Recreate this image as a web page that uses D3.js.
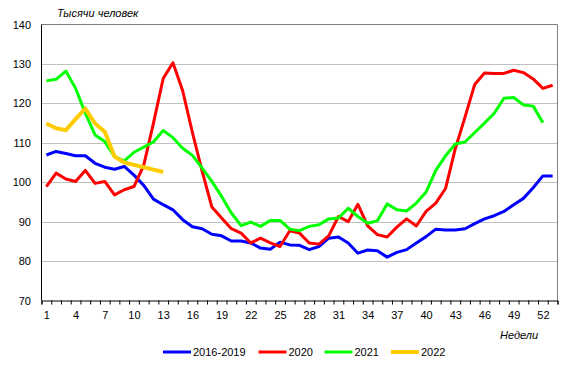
<!DOCTYPE html>
<meta charset="utf-8">
<style>
body{margin:0;background:#fff;}
text{font-family:"Liberation Sans",Arial,sans-serif;font-size:11px;fill:#000;}
.ttl{font-style:italic;}
</style>
<body>
<script src="https://d3js.org/d3.v7.min.js"></script>
<script>

// weeks 1..53
var weeks = d3.range(1, 54);
var weekLabels = [1,4,7,10,13,16,19,22,25,28,31,34,37,40,43,46,49,52];
var yTicks = [70,80,90,100,110,120,130,140];

var avg1619 = [106.9,107.8,107.3,106.7,106.7,104.8,103.8,103.3,104.0,101.8,
  99.2,95.7,94.3,93.0,90.5,88.7,88.2,86.8,86.4,85.1,
  85.1,84.6,83.3,83.0,84.8,84.1,84.0,82.9,83.7,85.8,
  86.1,84.6,82.0,82.8,82.6,81.0,82.2,82.9,84.6,86.2,
  88.1,87.9,87.9,88.2,89.5,90.7,91.5,92.6,94.3,95.9,
  98.6,101.6,101.6];
var y2020 = [98.9,102.3,100.8,100.2,103.0,99.7,100.2,96.8,98.1,98.9,
  104.3,115.0,126.3,130.3,123.2,112.6,102.8,93.7,90.9,88.2,
  87.1,84.6,85.8,84.6,83.7,87.7,87.1,84.6,84.3,86.4,
  91.3,90.0,94.4,88.9,86.7,86.1,88.6,90.7,88.9,92.6,
  94.7,98.4,108.5,116.5,124.8,127.7,127.6,127.6,128.4,127.8,
  126.2,123.8,124.6];
var y2021 = [125.7,126.1,128.2,123.8,117.5,112.0,110.3,106.5,105.4,107.6,
  108.9,110.2,113.1,111.3,108.6,106.8,103.6,100.2,96.4,92.2,
  89.0,89.9,88.8,90.3,90.3,88.1,87.7,88.8,89.2,90.7,
  90.9,93.4,91.3,89.6,90.2,94.5,93.0,92.7,94.7,97.5,
  103.0,106.7,109.7,110.2,112.6,115.0,117.5,121.3,121.5,119.6,
  119.3,115.1];
var y2022 = [114.9,113.7,113.2,116.0,118.7,114.9,112.8,106.5,105.0,104.4,
  103.8,103.2,102.6];

var series = [
  {name:"2016-2019", values:avg1619, color:"#0000ff", w:3},
  {name:"2020", values:y2020, color:"#ff0000", w:3},
  {name:"2021", values:y2021, color:"#00ff00", w:3},
  {name:"2022", values:y2022, color:"#ffcc00", w:4}
];

var W = 569, H = 368;
var L = 41.5, R = 557.5, T = 24.5, B = 300.5;

var svg = d3.select("body").append("svg").attr("width", W).attr("height", H);

var x = d3.scaleLinear().domain([0.5, 53.5]).range([L, R]);
var y = d3.scaleLinear().domain([70, 140]).range([B, T]);

// gridlines
svg.append("g").selectAll("line").data(yTicks.filter(d => d > 70 && d < 140)).join("line")
  .attr("x1", L).attr("x2", R)
  .attr("y1", d => Math.round(y(d)) + 0.5).attr("y2", d => Math.round(y(d)) + 0.5)
  .attr("stroke", "#c0c0c0").attr("stroke-width", 1);

// frame top / right
svg.append("path")
  .attr("d", "M" + L + "," + T + "H" + R + "V" + B)
  .attr("fill", "none").attr("stroke", "#808080").attr("stroke-width", 1);

// y labels
svg.append("g").selectAll("text").data(yTicks).join("text")
  .attr("x", 31).attr("y", d => y(d) + 4)
  .attr("text-anchor", "end")
  .text(d => d);

// left axis line
svg.append("line").attr("x1", L).attr("x2", L).attr("y1", T).attr("y2", B)
  .attr("stroke", "#000");

// x axis ticks between weeks
var xTickAxis = d3.axisBottom(x).tickValues(d3.range(0.5, 54, 1)).tickSize(4).tickFormat("");
var gx = svg.append("g").attr("transform", "translate(0," + B + ")").call(xTickAxis);
gx.select(".domain").attr("stroke", "#000");
gx.selectAll(".tick line").attr("stroke", "#000");

var xLabAxis = d3.axisBottom(x).tickValues(weekLabels).tickSize(0).tickPadding(0);
var gl = svg.append("g").attr("transform", "translate(0," + B + ")").call(xLabAxis);
gl.select(".domain").remove();
gl.selectAll("text").attr("dy", null).attr("y", 18)
  .style("font-family", "'Liberation Sans',Arial,sans-serif").style("font-size", "11px").attr("fill", "#000");

// lines
var line = d3.line().x((d, i) => x(weeks[i])).y(d => y(d)).curve(d3.curveLinear);
svg.append("g").selectAll("path").data(series).join("path")
  .attr("d", d => line(d.values))
  .attr("fill", "none")
  .attr("stroke", d => d.color)
  .attr("stroke-width", d => d.w)
  .attr("stroke-linejoin", "round");

// titles
svg.append("text").attr("class", "ttl").attr("x", 57).attr("y", 17).text("Тысячи человек");
svg.append("text").attr("class", "ttl").attr("x", 519).attr("y", 339).attr("text-anchor", "middle").text("Недели");

// legend
var legX = [163, 258.5, 324.5, 391];
var lg = svg.append("g").selectAll("g").data(series).join("g")
  .attr("transform", (d, i) => "translate(" + legX[i] + ",352)");
lg.append("line").attr("x1", 0).attr("x2", 28).attr("y1", 0).attr("y2", 0)
  .attr("stroke", d => d.color).attr("stroke-width", d => d.w);
lg.append("text").attr("x", 30).attr("y", 4).text(d => d.name);

</script>
</body>
</html>
